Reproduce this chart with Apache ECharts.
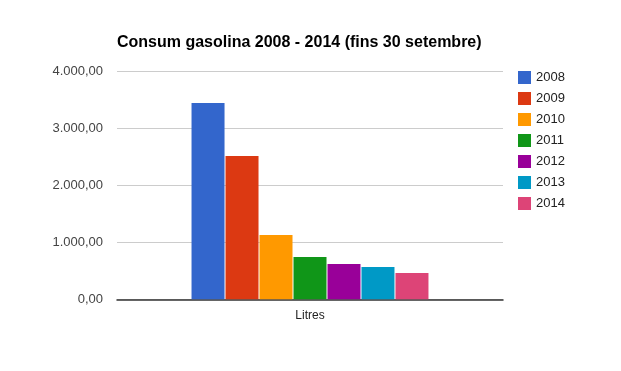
<!DOCTYPE html>
<html><head><meta charset="utf-8">
<script src="https://cdn.jsdelivr.net/npm/echarts@6/dist/echarts.min.js"></script>
<style>html,body{margin:0;padding:0;background:#fff}#c{width:621px;height:371px}</style>
</head><body><div id="c"></div>
<script>
const categories = ['Litres'];
const seriesNames = ['2008','2009','2010','2011','2012','2013','2014'];
const values = [3444, 2514, 1128, 742, 619, 567, 462];
const colors = ['#3366cc','#dc3912','#ff9900','#109618','#990099','#0099c6','#dd4477'];
const yTicks = [0, 1000, 2000, 3000, 4000];

function fmt(v){
  const s = Math.round(v).toString().replace(/\B(?=(\d{3})+(?!\d))/g,'.');
  return s + ',00';
}
const chart = echarts.init(document.getElementById('c'));
chart.setOption({
  animation:false,
  textStyle:{fontFamily:'Liberation Sans, Arial, sans-serif'},
  title:{text:'Consum gasolina 2008 - 2014 (fins 30 setembre)',left:112,top:30,
    textStyle:{fontSize:16,fontWeight:'bold',color:'#000',fontFamily:'Liberation Sans, Arial, sans-serif'}},
  legend:{orient:'vertical',left:513,top:66,itemWidth:13,itemHeight:13,itemGap:8,
    icon:'rect',textStyle:{fontSize:13,color:'#222'},
    data:seriesNames},
  grid:{left:117,right:118,top:71.3,bottom:71.7,containLabel:false},
  xAxis:{type:'category',data:categories,
    axisLine:{show:true,lineStyle:{color:'#333',width:1.5}},axisTick:{show:false},
    axisLabel:{fontSize:12,color:'#222',margin:10}},
  yAxis:{type:'value',min:yTicks[0],max:yTicks[yTicks.length-1],interval:1000,
    axisLine:{show:false},axisTick:{show:false},
    splitLine:{lineStyle:{color:'#cccccc'}},
    axisLabel:{fontSize:13,color:'#444',margin:14,formatter:fmt}},
  series: seriesNames.map((n,i)=>({name:n,type:'bar',data:[values[i]],
    itemStyle:{color:colors[i]},barWidth:33,barGap:'3%'}))
});
</script></body></html>
